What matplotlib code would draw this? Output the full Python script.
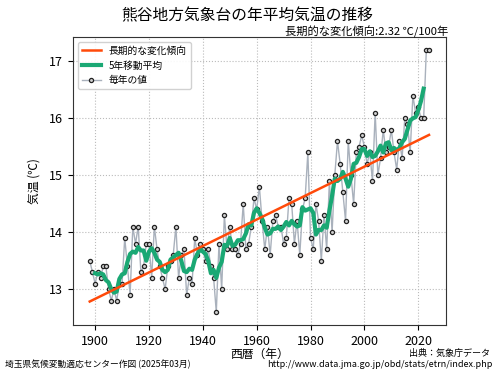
import numpy as np
import matplotlib
matplotlib.use('Agg')
import matplotlib.pyplot as plt

plt.rcParams['font.family'] = ['Noto Sans CJK JP', 'DejaVu Sans']

years = np.arange(1898, 2025)
temps = [
    13.5, 13.3, 13.1, 13.3, 13.2, 13.4, 13.4, 13.0, 12.8, 13.0,   # 1898-1907
    12.8, 13.1, 13.1, 13.9, 13.4, 12.9, 14.1, 13.8, 14.1, 13.3,   # 1908-1917
    13.4, 13.8, 13.8, 13.2, 14.1, 13.7, 13.4, 13.2, 13.0, 13.4,   # 1918-1927
    13.5, 13.6, 14.1, 13.2, 13.6, 13.7, 12.9, 13.2, 13.1, 13.9,   # 1928-1937
    13.6, 13.8, 13.7, 13.5, 13.7, 13.4, 13.2, 12.6, 13.8, 13.0,   # 1938-1947
    14.3, 13.7, 14.1, 13.7, 13.7, 13.6, 13.8, 14.5, 13.7, 13.8,   # 1948-1957
    14.1, 14.6, 14.4, 14.8, 14.2, 13.7, 14.1, 13.6, 14.2, 14.3,   # 1958-1967
    14.1, 14.1, 13.8, 13.9, 14.6, 14.5, 13.8, 14.2, 13.6, 14.4,   # 1968-1977
    14.6, 15.4, 13.9, 13.7, 14.5, 14.2, 13.5, 14.3, 13.7, 14.9,   # 1978-1987
    14.0, 15.0, 15.6, 15.2, 14.7, 14.2, 15.6, 15.0, 14.5, 15.4,   # 1988-1997
    15.5, 15.7, 15.5, 15.2, 15.4, 14.9, 16.1, 15.0, 15.3, 15.8,   # 1998-2007
    15.4, 15.5, 15.8, 15.4, 15.1, 15.6, 15.3, 16.0, 15.9, 15.4,   # 2008-2017
    16.4, 16.1, 16.2, 16.0, 16.0, 17.2, 17.2,                     # 2018-2024
]
temps = np.array(temps)

# 5-year centred moving average
ma = np.convolve(temps, np.ones(5) / 5, mode='valid')
ma_years = years[2:-2]

# linear trend
coef = np.polyfit(years, temps, 1)
trend = np.polyval(coef, years)

fig = plt.figure(figsize=(4.95, 3.72), dpi=100)
ax = fig.add_axes([0.147, 0.126, 0.754, 0.775])

l3, = ax.plot(years, temps, color='#a9b1bc', lw=1, marker='o', ms=3,
              mfc='#d0d0d0', mec='#222222', mew=0.9, label='毎年の値', zorder=2)
l2, = ax.plot(ma_years, ma, color='#1aa874', lw=3, label='5年移動平均', zorder=3)
l1, = ax.plot(years, trend, color='#ff4a0a', lw=1.8, label='長期的な変化傾向', zorder=4)

ax.grid(True, ls=':', color='#bbbbbb', lw=0.8)
ax.set_xticks([1900, 1920, 1940, 1960, 1980, 2000, 2020])
ax.set_yticks([13, 14, 15, 16, 17])
ax.tick_params(labelsize=9)
for s in ax.spines.values():
    s.set_color('#333333')

ax.set_xlabel('西暦（年）', fontsize=8.5, labelpad=0)
ax.set_ylabel('気温 (℃)', fontsize=8.5, labelpad=6)

ax.legend(handles=[l1, l2, l3], loc='upper left', fontsize=7, framealpha=0.9)

fig.text(0.5, 0.957, '熊谷地方気象台の年平均気温の推移', ha='center', va='center', fontsize=11.3)
fig.text(0.905, 0.915, '長期的な変化傾向:2.32 ℃/100年', ha='right', va='center', fontsize=8.1)
fig.text(0.99, 0.05, '出典：気象庁データ', ha='right', va='center', fontsize=6.5)
fig.text(0.995, 0.02, 'http://www.data.jma.go.jp/obd/stats/etrn/index.php', ha='right', va='center', fontsize=6.5)
fig.text(0.01, 0.02, '埼玉県気候変動適応センター作図 (2025年03月)', ha='left', va='center', fontsize=6.3)

plt.savefig('out.png', dpi=100)
